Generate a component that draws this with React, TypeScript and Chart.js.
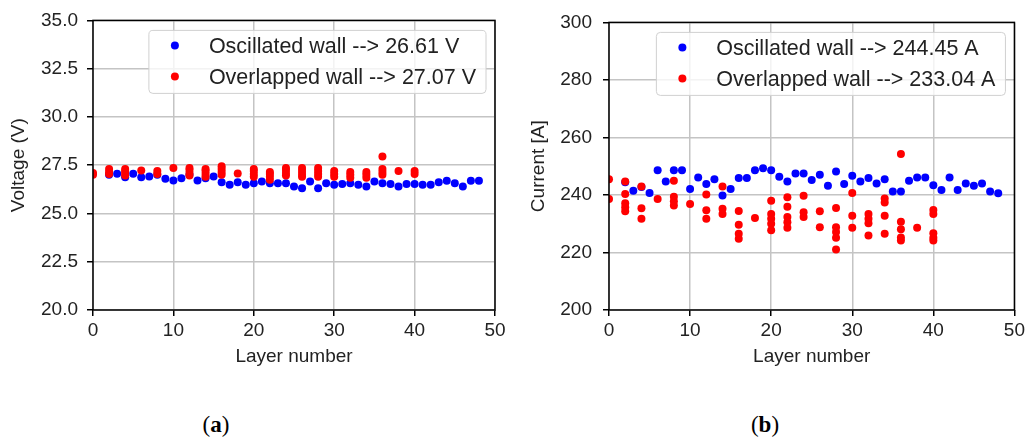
import React, { useEffect, useRef } from 'react';
import { Chart, registerables } from 'chart.js';
Chart.register(...registerables);

// ---------- data ----------
const oscillatedLayers = [2, 3, 4, 5, 6, 7, 8, 9, 10, 11, 12, 13, 14, 15, 16, 17, 18, 19, 20, 21, 22, 23, 24, 25, 26, 27, 28, 29, 30, 31, 32, 33, 34, 35, 36, 37, 38, 39, 40, 41, 42, 43, 44, 45, 46, 47, 48];
const oscillatedVoltage = [27.0, 27.06, 26.88, 27.06, 26.88, 26.92, 27.0, 26.8, 26.71, 26.83, 27.0, 26.71, 26.83, 26.92, 26.62, 26.49, 26.62, 26.49, 26.57, 26.66, 26.57, 26.57, 26.57, 26.4, 26.31, 26.66, 26.31, 26.57, 26.49, 26.52, 26.57, 26.49, 26.4, 26.66, 26.57, 26.52, 26.4, 26.52, 26.52, 26.49, 26.49, 26.62, 26.69, 26.57, 26.4, 26.69, 26.69];
const oscillatedCurrent = [244.4, 241.5, 242.8, 240.7, 248.6, 244.7, 248.6, 248.6, 242.1, 246.1, 243.8, 245.5, 239.8, 242.1, 245.9, 245.9, 248.6, 249.3, 248.6, 246.3, 244.7, 247.5, 247.5, 245.2, 247.0, 243.2, 248.2, 243.8, 246.7, 244.7, 245.9, 244.0, 245.5, 241.2, 241.2, 244.9, 246.1, 246.1, 243.4, 241.7, 246.1, 241.7, 244.0, 243.2, 244.0, 241.2, 240.6];

const overlappedLayers = [0, 2, 4, 6, 8, 10, 12, 14, 16, 18, 20, 22, 24, 26, 28, 30, 32, 34, 36, 38, 40];
const overlappedVoltage = [
  [27.0, 27.1],
  [27.05, 27.15, 27.3],
  [26.97, 27.1, 27.2, 27.3],
  [27.22],
  [27.05, 27.2],
  [27.36],
  [26.97, 27.1, 27.25, 27.35],
  [26.9, 27.05, 27.2, 27.3],
  [27.0, 27.15, 27.3, 27.45],
  [27.07],
  [26.9, 27.05, 27.2, 27.3],
  [26.75, 26.9, 27.05, 27.15],
  [26.97, 27.1, 27.25, 27.35],
  [26.9, 27.05, 27.2, 27.35],
  [26.9, 27.05, 27.2, 27.35],
  [26.9, 27.05, 27.2],
  [26.85, 27.0, 27.15],
  [26.85, 27.0, 27.15],
  [27.95, 27.0, 27.15, 27.3],
  [27.2],
  [27.05, 27.2],
];
const overlappedCurrent = [
  [245.5, 238.6],
  [244.7, 240.3, 237.1, 235.7, 234.3],
  [242.9, 235.4, 231.7],
  [238.6],
  [244.9, 239.4, 237.8, 236.3],
  [236.9],
  [240.2, 234.7, 231.7],
  [242.9, 235.2, 233.4],
  [234.4, 229.6, 226.5, 224.8],
  [232.0],
  [238.0, 233.4, 231.7, 230.0, 227.7],
  [239.2, 235.9, 232.3, 230.5, 228.6],
  [239.7, 234.0, 232.3],
  [234.3, 228.8],
  [235.5, 228.8, 227.1, 225.1, 221.0],
  [240.7, 232.8, 228.6],
  [233.4, 231.7, 230.2, 225.9],
  [238.8, 237.4, 232.8, 226.5],
  [254.2, 230.7, 228.1, 225.2, 224.2],
  [228.6],
  [234.8, 233.4, 226.7, 225.1, 224.2],
];

const layerTicks = [0, 10, 20, 30, 40, 50];
const voltageTicks = [20, 22.5, 25, 27.5, 30, 32.5, 35];
const currentTicks = [200, 220, 240, 260, 280, 300];

const voltageLabels = ['Oscillated wall --> 26.61 V', 'Overlapped wall --> 27.07 V'];
const currentLabels = ['Oscillated wall --> 244.45 A', 'Overlapped wall --> 233.04 A'];

const BLUE = '#0000ff';
const RED = '#ff0000';
const FONT = "'Liberation Sans', Arial, Helvetica, sans-serif";

function pairs(xs: number[], ys: number[]) {
  return xs.map((x, i) => ({ x, y: ys[i] }));
}
function stacks(xs: number[], groups: number[][]) {
  const out: { x: number; y: number }[] = [];
  xs.forEach((x, i) => groups[i].forEach((y) => out.push({ x, y })));
  return out;
}

const framePlugin = {
  id: 'mplFrame',
  afterDatasetsDraw(chart: any) {
    const { ctx, chartArea } = chart;
    const { left, top, right, bottom } = chartArea;
    ctx.save();
    ctx.strokeStyle = '#000';
    ctx.lineWidth = 1.5;
    ctx.strokeRect(left, top, right - left, bottom - top);
    ctx.restore();
  },
};

const legendPlugin = {
  id: 'mplLegend',
  afterDraw(chart: any) {
    const { ctx, chartArea } = chart;
    const ds = [chart.data.datasets[1], chart.data.datasets[0]]; // blue then red
    ctx.save();
    ctx.font = `21.5px ${FONT}`;
    const maxW = Math.max(...ds.map((d: any) => ctx.measureText(d.label).width));
    const w = 26 + 34 + maxW + 10;
    const h = 63;
    const x = chartArea.right - 9 - w;
    const y = chartArea.top + 10;
    const r = 4;
    ctx.beginPath();
    ctx.moveTo(x + r, y);
    ctx.lineTo(x + w - r, y);
    ctx.arcTo(x + w, y, x + w, y + r, r);
    ctx.lineTo(x + w, y + h - r);
    ctx.arcTo(x + w, y + h, x + w - r, y + h, r);
    ctx.lineTo(x + r, y + h);
    ctx.arcTo(x, y + h, x, y + h - r, r);
    ctx.lineTo(x, y + r);
    ctx.arcTo(x, y, x + r, y, r);
    ctx.closePath();
    ctx.fillStyle = 'rgba(255,255,255,0.8)';
    ctx.fill();
    ctx.strokeStyle = '#d0d0d0';
    ctx.lineWidth = 1;
    ctx.stroke();
    const rows = [15, 46];
    ds.forEach((d: any, i: number) => {
      const cy = y + rows[i];
      ctx.beginPath();
      ctx.arc(x + 26, cy, 4, 0, Math.PI * 2);
      ctx.fillStyle = d.backgroundColor;
      ctx.fill();
      ctx.fillStyle = '#222';
      ctx.textBaseline = 'alphabetic';
      ctx.textAlign = 'left';
      ctx.fillText(d.label, x + 60, cy + 7.7);
    });
    ctx.restore();
  },
};

function makeConfig(opts: {
  blue: { x: number; y: number }[];
  red: { x: number; y: number }[];
  labels: string[];
  yTicks: number[];
  yTitle: string;
  yWidth: number;
  yTitlePad: number;
  yTickPad: number;
  rightPad: number;
  decimals: number;
}): any {
  return {
    type: 'scatter',
    data: {
      datasets: [
        {
          label: opts.labels[1],
          data: opts.red,
          backgroundColor: RED,
          borderWidth: 0,
          pointRadius: 4,
          clip: 0,
          order: 1,
        },
        {
          label: opts.labels[0],
          data: opts.blue,
          backgroundColor: BLUE,
          borderWidth: 0,
          pointRadius: 4,
          clip: 0,
          order: 2,
        },
      ],
    },
    options: {
      responsive: false,
      animation: false,
      events: [],
      layout: { padding: { left: 0, top: 20, right: opts.rightPad, bottom: 4 } },
      plugins: { legend: { display: false }, tooltip: { enabled: false } },
      scales: {
        x: {
          type: 'linear',
          min: 0,
          max: 50,
          afterBuildTicks: (s: any) => {
            s.ticks = layerTicks.map((v) => ({ value: v }));
          },
          afterFit: (s: any) => {
            s.height = 58;
          },
          grid: { color: '#c4c4c4', lineWidth: 1.5, tickColor: '#000', tickWidth: 1.5, tickLength: 6 },
          border: { display: false },
          ticks: {
            color: '#222',
            font: { family: FONT, size: 19 },
            padding: 3,
            maxRotation: 0,
            callback: (v: any) => String(v),
          },
          title: {
            display: true,
            text: 'Layer number',
            color: '#222',
            font: { family: FONT, size: 19 },
            padding: { top: 0, bottom: 0 },
          },
        },
        y: {
          type: 'linear',
          min: opts.yTicks[0],
          max: opts.yTicks[opts.yTicks.length - 1],
          afterBuildTicks: (s: any) => {
            s.ticks = opts.yTicks.map((v) => ({ value: v }));
          },
          afterFit: (s: any) => {
            s.width = opts.yWidth;
          },
          grid: { color: '#c4c4c4', lineWidth: 1.5, tickColor: '#000', tickWidth: 1.5, tickLength: 6 },
          border: { display: false },
          ticks: {
            color: '#222',
            font: { family: FONT, size: 19 },
            padding: opts.yTickPad,
            callback: (v: any) => Number(v).toFixed(opts.decimals),
          },
          title: {
            display: true,
            text: opts.yTitle,
            color: '#222',
            font: { family: FONT, size: 19 },
            padding: { top: opts.yTitlePad, bottom: 0 },
          },
        },
      },
    },
    plugins: [framePlugin, legendPlugin],
  };
}

function Panel(props: { config: any; left: number }) {
  const ref = useRef<HTMLCanvasElement | null>(null);
  useEffect(() => {
    if (!ref.current) return;
    const chart = new Chart(ref.current, props.config);
    return () => chart.destroy();
  }, []);
  return (
    <canvas
      ref={ref}
      width={514}
      height={372}
      style={{ position: 'absolute', left: props.left, top: 0, width: 514, height: 372 }}
    />
  );
}

const voltageConfig = makeConfig({
  blue: pairs(oscillatedLayers, oscillatedVoltage),
  red: stacks(overlappedLayers, overlappedVoltage),
  labels: voltageLabels,
  yTicks: voltageTicks,
  yTitle: 'Voltage (V)',
  yWidth: 93,
  yTitlePad: 7,
  yTickPad: 9,
  rightPad: 19,
  decimals: 1,
});

const currentConfig = makeConfig({
  blue: pairs(oscillatedLayers, oscillatedCurrent),
  red: stacks(overlappedLayers, overlappedCurrent),
  labels: currentLabels,
  yTicks: currentTicks,
  yTitle: 'Current [A]',
  yWidth: 95,
  yTitlePad: 13,
  yTickPad: 11,
  rightPad: 11,
  decimals: 0,
});

const captionStyle: React.CSSProperties = {
  position: 'absolute',
  top: 411,
  width: 100,
  textAlign: 'center',
  fontFamily: "'Liberation Serif', 'DejaVu Serif', serif",
  fontSize: 23,
  lineHeight: '28px',
  color: '#000',
};

export default function App() {
  return (
    <div style={{ position: 'absolute', left: 0, top: 0, width: 1028, height: 441, background: '#fff', overflow: 'hidden' }}>
      <Panel config={voltageConfig} left={0} />
      <Panel config={currentConfig} left={514} />
      <div style={{ ...captionStyle, left: 216 - 50 }}>
        (<b>a</b>)
      </div>
      <div style={{ ...captionStyle, left: 765 - 50 }}>
        (<b>b</b>)
      </div>
    </div>
  );
}
